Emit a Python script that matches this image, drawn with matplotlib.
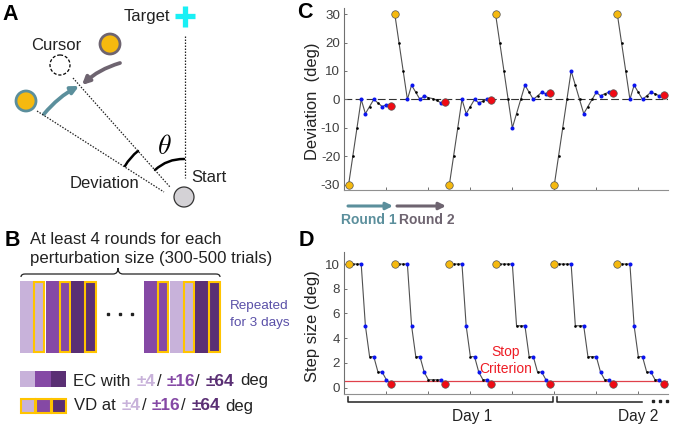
import numpy as np
import matplotlib
matplotlib.use("Agg")
import matplotlib.pyplot as plt
from matplotlib.patches import Rectangle, Circle, FancyArrowPatch, PathPatch
from matplotlib.path import Path

plt.rcParams['font.family'] = ['Liberation Sans', 'DejaVu Sans']

W, H = 673, 429

# panel C, deviation per trial (rounds run one after the other)
dev_rounds = [
    [-30, -20, -10, 0, -5, -2.5, 0, -1.25, -2.5, -1.9, -2.2],
    [30, 20, 10, 0, 5, 2.5, 0, 1.25, 0.6, 0.3, -0.3, -1.25, -1.0],
    [-30, -20, -10, 0, -5, -2.5, 0, -1.25, -0.6, 0, -0.3],
    [30, 20, 10, 0, -10, -5, 0, 5, 2.5, 0, 1.25, 2.5, 2.0, 2.2],
    [-30, -20, -10, 0, 10, 5, 0, -5, -2.5, 0, 2.5, 1.25, 2.0, 2.5, 2.2],
    [30, 20, 10, 0, 5, 2.5, 0, 1.25, 2.5, 2.0, 1.25, 1.5],
]
# panel D, step size per trial
step_rounds = [
    [10, 10, 10, 10, 5, 2.5, 2.5, 1.25, 1.25, 0.625, 0.3],
    [10, 10, 10, 10, 5, 2.5, 2.5, 1.25, 0.625, 0.625, 0.625, 0.625, 0.3],
    [10, 10, 10, 10, 5, 2.5, 2.5, 1.25, 0.625, 0.625, 0.3],
    [10, 10, 10, 10, 10, 5, 5, 5, 2.5, 2.5, 1.25, 1.25, 0.625, 0.3],
    [10, 10, 10, 10, 10, 5, 5, 5, 2.5, 2.5, 2.5, 1.25, 0.625, 0.625, 0.3],
    [10, 10, 10, 10, 5, 2.5, 2.5, 1.25, 1.25, 0.625, 0.625, 0.3],
]
# blue trials (reversals), index within each round
dev_blue = [[3, 4, 6, 8, 9], [3, 4, 6, 7, 11], [3, 4, 6, 7, 9],
            [4, 7, 9, 11, 12], [4, 7, 10, 11, 13], [3, 4, 6, 8, 10]]
step_blue = [[3, 4, 6, 8, 9], [3, 4, 6, 7, 11], [3, 4, 6, 7, 9],
             [4, 7, 9, 11, 12], [4, 7, 10, 11, 13], [3, 4, 6, 8, 10]]
x_ticks = [10, 20, 30, 40, 50, 60, 70]
dev_ticks = [-30, -20, -10, 0, 10, 20, 30]
step_ticks = [0, 2, 4, 6, 8, 10]
stop_criterion = 0.5

YEL = '#F5B90F'
TEAL = '#5B8F9C'
GRAYP = '#6E6470'
LIGHT = '#C8B2DA'
MID = '#8549A5'
DARK = '#5A2F74'
BORD = '#FFC400'
TXT = '#222222'
TICK = '#404040'

fig = plt.figure(figsize=(W / 100, H / 100), dpi=100)


def px_axes(left, top, right, bottom):
    return fig.add_axes([left / W, 1 - bottom / H, (right - left) / W, (bottom - top) / H])


def trial_plot(ax, rounds, blue):
    start = 1
    for vals, b in zip(rounds, blue):
        x = np.arange(start, start + len(vals))
        vals = np.array(vals, dtype=float)
        ax.plot(x, vals, color='#505050', lw=0.8, zorder=2)
        ax.plot(x[1:-1], vals[1:-1], 'o', color='black', ms=1.9, mew=0, zorder=3)
        ax.plot(x[b], vals[b], 'o', color='#0A14F0', ms=2.9, mew=0, zorder=4)
        ax.plot(x[0], vals[0], 'o', color=YEL, ms=5.4, mec='#555555', mew=0.5, zorder=5)
        ax.plot(x[-1], vals[-1], 'o', color='#F00A14', ms=5.4, mec='#555555', mew=0.5, zorder=5)
        start += len(vals)


def style_axes(ax, yticks, ylim, ylabel, labelx, labely):
    ax.set_xlim(0, 77)
    ax.set_ylim(*ylim)
    ax.set_xticks(x_ticks)
    ax.set_xticklabels([])
    ax.set_yticks(yticks)
    ax.set_yticklabels([str(t) for t in yticks])
    ax.tick_params(axis='both', direction='in', length=2.2, width=0.7, color='#707070',
                   labelsize=9.6, labelcolor=TICK, pad=3)
    ax.spines['top'].set_visible(False)
    ax.spines['right'].set_visible(False)
    ax.spines['left'].set_color('#707070')
    ax.spines['bottom'].set_color('#909090')
    ax.patch.set_alpha(0)
    ax.set_ylabel(ylabel, fontsize=11.9, color=TXT)
    ax.yaxis.set_label_coords(labelx, labely)


# C
axc = px_axes(344.4, 8.4, 667.7, 190.4)
axc.axhline(0, color='#333333', lw=0.8, dashes=(7, 3), zorder=1)
trial_plot(axc, dev_rounds, dev_blue)
style_axes(axc, dev_ticks, (-32, 32), 'Deviation  (deg)', -0.074, 0.49)

# D
axd = px_axes(344.4, 252.3, 667.7, 393.7)
axd.axhline(stop_criterion, color='#E0404A', lw=0.9, zorder=1)
trial_plot(axd, step_rounds, step_blue)
style_axes(axd, step_ticks, (-0.5, 10.95), 'Step size (deg)', -0.074, 0.48)

# overlay in pixel coordinates for the schematic panels
ov = fig.add_axes([0, 0, 1, 1])
ov.set_xlim(0, W)
ov.set_ylim(H, 0)
ov.axis('off')
ov.patch.set_alpha(0)


def label(x, y, s, size=12, color=TXT, ha='left', weight='normal', **kw):
    return ov.text(x, y, s, fontsize=size, color=color, ha=ha, va='center', fontweight=weight, **kw)


def dot_line(p, q):
    ov.plot([p[0], q[0]], [p[1], q[1]], color='#222222', lw=0.9, dashes=(1.2, 1.2))


def curve_arrow(p, q, rad, color):
    ov.add_patch(FancyArrowPatch(p, q, connectionstyle=f'arc3,rad={rad}', arrowstyle='-|>',
                                 mutation_scale=11, lw=2.7, color=color, shrinkA=0, shrinkB=0))


# panel letters
label(2, 15, 'A', size=15.5, color='black', weight='bold')
label(5, 240, 'B', size=15.5, color='black', weight='bold')
label(297, 12, 'C', size=15.5, color='black', weight='bold')
label(299, 241, 'D', size=15.5, color='black', weight='bold')

# A
label(170, 16, 'Target', ha='right')
ov.plot([175, 195], [16, 16], color='#19F0F5', lw=3.8, solid_capstyle='butt')
ov.plot([185, 185], [6, 27], color='#19F0F5', lw=3.8, solid_capstyle='butt')
dot_line((184.5, 36), (184.5, 178))
dot_line((73, 78), (170, 187))
dot_line((37, 111), (164, 192))
ov.add_patch(Circle((184, 197), 10, fc='#D4D2D6', ec='#333333', lw=0.9))
label(191, 177, 'Start')
label(31, 45, 'Cursor')
ov.add_patch(Circle((60, 65), 10, fc='white', ec='black', lw=0.9, ls=(0, (2.5, 1.5))))
ov.add_patch(Circle((110, 44), 10, fc=YEL, ec=GRAYP, lw=2))
ov.add_patch(Circle((26, 101), 10, fc=YEL, ec=TEAL, lw=2))
curve_arrow((120, 63), (82, 85), 0.12, GRAYP)
curve_arrow((44, 114), (79, 86), -0.1, TEAL)
ov.add_patch(FancyArrowPatch((155, 170), (184, 159), connectionstyle='arc3,rad=-0.2',
                             arrowstyle='-', lw=1.8, color='black', shrinkA=0, shrinkB=0))
ov.add_patch(FancyArrowPatch((125, 166), (138, 151), connectionstyle='arc3,rad=-0.1',
                             arrowstyle='-', lw=1.8, color='black', shrinkA=0, shrinkB=0))
ov.text(164, 147, r'$\theta$', fontsize=20, ha='center', va='center', math_fontfamily='cm', color='black')
label(70, 184, 'Deviation')

# B
label(30, 239, 'At least 4 rounds for each', size=12.1)
label(30, 259, 'perturbation size (300-500 trials)', size=12.1)
brace = Path([(21, 277), (21, 274), (25, 274), (113, 274), (118, 274), (118, 268),
              (118, 274), (123, 274), (216, 274), (220, 274), (220, 277)],
             [Path.MOVETO, Path.CURVE3, Path.CURVE3, Path.LINETO, Path.CURVE3, Path.CURVE3,
              Path.CURVE3, Path.CURVE3, Path.LINETO, Path.CURVE3, Path.CURVE3])
ov.add_patch(PathPatch(brace, fc='none', ec='#222222', lw=0.9))


def bar_group(x0, colors):
    x = x0
    for c in colors:
        ov.add_patch(Rectangle((x, 281), 13, 72, fc=c, ec='none'))
        ov.add_patch(Rectangle((x + 13.8, 282), 10.6, 70, fc=c, ec=BORD, lw=1.5))
        x += 25.7


bar_group(20, [LIGHT, MID, DARK])
bar_group(144, [MID, LIGHT, DARK])
ov.plot([108, 120, 132], [313.5, 313.5, 313.5], 's', color='#222222', ms=1.9)
label(230, 306, 'Repeated', size=9.7, color='#5A50A8')
label(230, 323, 'for 3 days', size=9.7, color='#5A50A8')

for i, c in enumerate([LIGHT, MID, DARK]):
    ov.add_patch(Rectangle((20 + i * 15.3, 371), 15.3, 16, fc=c, ec='none'))
    ov.add_patch(Rectangle((21 + i * 15.3, 399), 14.3, 13.5, fc=c, ec=BORD, lw=1.5))


def legend_line(y, lead, xs):
    label(xs[0], y, lead, size=12)
    label(xs[1], y, '±4', size=12.4, color=LIGHT, weight='bold')
    label(xs[2], y, '/', size=12)
    label(xs[3], y, '±16', size=12.4, color=MID, weight='bold')
    label(xs[4], y, '/', size=12)
    label(xs[5], y, '±64', size=12.4, color=DARK, weight='bold')
    label(xs[6], y, 'deg', size=12)


legend_line(381, 'EC with', [73, 137, 157, 167, 195, 206, 240])
legend_line(406, 'VD at', [74, 122, 142, 152, 181, 192, 225])

# below C
ov.add_patch(FancyArrowPatch((348, 206), (393, 206), arrowstyle='-|>', mutation_scale=10, lw=2.2,
                             color=TEAL, shrinkA=0, shrinkB=0))
ov.add_patch(FancyArrowPatch((397, 206), (446, 206), arrowstyle='-|>', mutation_scale=10, lw=2.2,
                             color=GRAYP, shrinkA=0, shrinkB=0))
label(341, 220, 'Round 1', size=10, color=TEAL, weight='bold')
label(399, 220, 'Round 2', size=10, color=GRAYP, weight='bold')

# below D
ov.plot([348, 348, 552.7, 552.7], [397, 402, 402, 397], color='#222222', lw=1.1)
ov.plot([556.7, 556.7, 641.7], [397, 402, 402], color='#222222', lw=1.1)
ov.plot([653, 660, 667], [401, 401, 401], 's', color='#222222', ms=1.8)
label(472, 417, 'Day 1', size=11.2, ha='center')
label(638, 417, 'Day 2', size=11.2, ha='center')
label(505.5, 352, 'Stop', size=10, color='#EE1C25', ha='center')
label(505.5, 369, 'Criterion', size=10, color='#EE1C25', ha='center')

fig.savefig('out.png', dpi=100)
